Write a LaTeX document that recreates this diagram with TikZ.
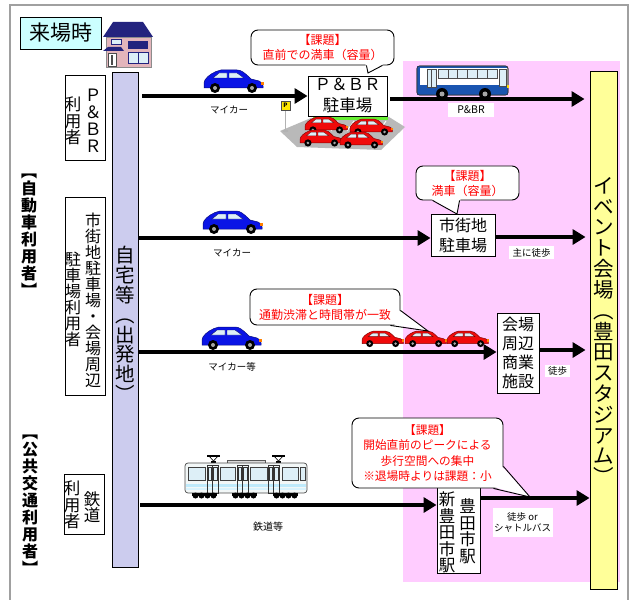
\documentclass[tikz,border=0pt]{standalone}
\usepackage{fontspec}
\setmainfont{Noto Sans CJK JP}
\usetikzlibrary{arrows.meta,calc}

\definecolor{framegray}{HTML}{A0A0A0}
\definecolor{titlecyan}{HTML}{CCFFFF}
\definecolor{homebar}{HTML}{CCCCEE}
\definecolor{zonepink}{HTML}{FFCCFF}
\definecolor{venueyellow}{HTML}{FFFF99}
\definecolor{issuered}{HTML}{FF0000}
\definecolor{carblue}{HTML}{0A14E6}
\definecolor{carred}{HTML}{F00A0A}
\definecolor{glass}{HTML}{DDEFF7}
\definecolor{busblue}{HTML}{1A55B0}
\definecolor{roofnavy}{HTML}{23237E}
\definecolor{wallpink}{HTML}{E3B5BB}
\definecolor{trainbody}{HTML}{F2F7F7}
\definecolor{lotgreen}{HTML}{66EE33}

% vertical (tate-gaki) stack of characters: \tate[pitch in em]{chars}
\makeatletter
\def\tate@end{\tate@end}
\def\tate@loop#1{\ifx\tate@end#1\else\hbox to 1em{\hss#1\hss}\expandafter\tate@loop\fi}
\newcommand\tate[2][1]{\vbox{\baselineskip=#1em\lineskiplimit=-\maxdimen\lineskip=0pt\tate@loop#2\tate@end}}
\makeatother

% side view of a small car, origin at its top-left corner (y grows downwards)
\tikzset{
  pics/car/.style={code={
    \filldraw[fill=#1, draw=#1!55!black, line width=0.5pt]
      (0,18) -- (0,13) .. controls (0,9) and (6,4) .. (12,1.5)
      .. controls (14,0.5) and (15,0) .. (17,0) -- (33,0)
      .. controls (37,0) and (40,2) .. (47,9) -- (55,11)
      .. controls (58,12) and (59,14) .. (59,16) -- (59,18) -- cycle;
    \filldraw[fill=glass, draw=#1!50!black, line width=0.4pt]
      (9,8) -- (15,3) -- (23,3) -- (23,8) -- cycle
      (25,3) -- (33,3) -- (40,8) -- (25,8) -- cycle;
    \fill[orange] (57,12) rectangle (59.5,15);
    \fill[black] (11,18) circle[radius=5] (48,18) circle[radius=5];
    \fill[gray!70] (11,18) circle[radius=2] (48,18) circle[radius=2];
  }}
}

\begin{document}
\begin{tikzpicture}[x=1pt,y=-1pt,
  box/.style={draw=black, line width=0.9pt, fill=white, inner sep=0pt, align=center},
  bar/.style={draw=black, line width=0.9pt, inner sep=0pt},
  arr/.style={line width=4.5pt, -{Triangle[length=13pt,width=15pt]}},
  lbl/.style={font=\fontsize{9.5}{11.5}\selectfont, inner sep=1.5pt, align=center},
  wlbl/.style={lbl, fill=white},
  note/.style={draw=black, line width=0.9pt, rounded corners=7pt, fill=white,
    text=issuered, font=\fontsize{12}{15}\selectfont, align=center, inner sep=0pt},
  tail/.style={line width=0.9pt},
  col/.style={inner sep=0pt}
]
\useasboundingbox (0,0) rectangle (631,599);

% outer frame
\draw[framegray, line width=1.5pt] (10,602) -- (10,5) -- (628,5) -- (628,602);

% venue-side zone
\fill[zonepink] (403,61) rectangle (620,582);

% title
\node[draw=black, line width=0.9pt, fill=titlecyan, minimum width=81, minimum height=32,
  inner sep=0pt, font=\fontsize{21}{21}\selectfont] (title) at (60.5,33) {来場時};

% house icon
\begin{scope}[shift={(103,22)}]
  \filldraw[fill=wallpink, draw=black!45, line width=0.4pt] (3,15) rectangle (48,45);
  \fill[roofnavy] (0,29) -- (5,25) -- (18,25) -- (21,29) -- cycle;
  \filldraw[fill=white, draw=black!70, line width=0.4pt] (5,31) rectangle (13,44);
  \fill[black!70] (8,33) rectangle (10,43);
  \filldraw[fill=glass, draw=roofnavy, line width=0.5pt] (8,17) rectangle (18,22);
  \fill[roofnavy] (25,19) rectangle (45,27);
  \filldraw[fill=glass, draw=roofnavy, line width=0.8pt] (25,30) rectangle (45,41);
  \draw[roofnavy, line width=0.5pt] (35,30) -- (35,41);
  \fill[roofnavy] (0,15) -- (10,0) -- (40,0) -- (50,15) -- cycle;
\end{scope}

% departure bar and venue bar
\node[bar, fill=homebar, minimum width=26, minimum height=495] (home) at (125,319.5) {};
\node[col, font=\fontsize{19.5}{19.5}\selectfont] (hometext) at (125.5,324) {\tate[1.015]{自宅等︵出発地︶}};
\node[bar, fill=venueyellow, minimum width=27, minimum height=518] (venue) at (603.5,330) {};
\node[col, font=\fontsize{20.5}{20.5}\selectfont] (venuetext) at (603.5,331) {\tate[1.015]{イベント会場︵豊田スタジアム︶}};

% user groups
\node[col, font=\fontsize{16}{16}\selectfont\bfseries] (catcar) at (29,235.5) {\tate[1.0625]{︻自動車利用者︼}};
\node[col, font=\fontsize{16}{16}\selectfont\bfseries] (catpublic) at (30,505) {\tate[1.0625]{︻公共交通利用者︼}};

\node[box, minimum width=40, minimum height=85] (pbruser) at (85,117.5) {};
\node[col, font=\fontsize{17}{17}\selectfont] (pbruserA) at (93,121) {\tate{Ｐ＆ＢＲ}};
\node[col, font=\fontsize{16.5}{16.5}\selectfont] (pbruserB) at (73,121) {\tate{利用者}};

\node[box, minimum width=40, minimum height=198] (caruser) at (85,296) {};
\node[col, font=\fontsize{16}{16}\selectfont] (caruserA) at (93,300) {\tate{市街地駐車場・会場周辺}};
\node[col, font=\fontsize{16}{16}\selectfont] (caruserB) at (73,299.5) {\tate{駐車場利用者}};

\node[box, minimum width=40, minimum height=60] (railuser) at (84,504) {};
\node[col, font=\fontsize{16.5}{16.5}\selectfont] (railuserA) at (92,507) {\tate{鉄道}};
\node[col, font=\fontsize{16.5}{16.5}\selectfont] (railuserB) at (72,505) {\tate{利用者}};

% ---------- route 1 : park & bus ride ----------
% parking lot
\fill[gray!55] (280,131) -- (311,118) -- (389,117) -- (405,127) -- (381,150) -- (297,147) -- cycle;
\draw[lotgreen, line width=2.5pt] (313,118.5) -- (388,118.5);
\foreach \lx in {322,338,354,370,386}
  \draw[white, line width=0.9pt] (\lx,121) -- (\lx-7,131);
\draw[gray!60, line width=1.2pt] (285.5,109) -- (285.5,131);
\fill[gray!60] (285.5,131) ellipse[x radius=3, y radius=1.2];
\filldraw[fill=yellow!90!orange, draw=black!70, line width=0.5pt] (281,101) rectangle (290,110);
\node[inner sep=0pt, font=\fontsize{6}{6}\selectfont\bfseries] (psign) at (285.5,105.5) {P};
\pic[scale=0.72] at (305,117) {car=carred};
\pic[scale=0.72] at (350,119) {car=carred};
\pic[scale=0.72] at (300,130) {car=carred};
\pic[scale=0.72] at (340,132) {car=carred};

\node[box, minimum width=79, minimum height=40, font=\fontsize{16.5}{21}\selectfont] (pbr) at (347.5,96) {Ｐ＆ＢＲ\\駐車場};
\pic at (204,70) {car=carblue};
\draw[arr, shorten <=4pt] (home.east |- pbr.west) -- (pbr.west);
\node[lbl] (mycar1) at (229,110) {マイカー};

% bus
\begin{scope}[shift={(417,66)}]
  \filldraw[fill=white, draw=black!80, line width=0.6pt, rounded corners=2.5pt] (0,0) rectangle (91,29);
  \fill[busblue] (1,0.5) rectangle (90,2.5);
  \fill[busblue] (0.4,19) rectangle (90.6,28.6);
  \fill[busblue] (0.4,0.5) rectangle (3,28.6);
  \foreach \i in {0,...,5}
    \filldraw[fill=glass, draw=black!70, line width=0.4pt] ({21+\i*9.8},3.5) rectangle ({30.8+\i*9.8},12);
  \filldraw[fill=glass, draw=black!70, line width=0.5pt] (10,3.5) rectangle (19,21);
  \draw[black!70, line width=0.4pt] (14.5,3.5) -- (14.5,21);
  \filldraw[fill=glass, draw=black!70, line width=0.5pt] (82,3.5) rectangle (89,20);
  \draw[black!80, line width=0.6pt, rounded corners=2.5pt] (0,0) rectangle (91,29);
  \fill[yellow!80!orange] (89.5,19) rectangle (92,22);
  \fill[black] (25,28) circle[radius=6] (68,28) circle[radius=6];
  \fill[gray!70] (25,28) circle[radius=2.5] (68,28) circle[radius=2.5];
\end{scope}
\draw[arr, shorten >=5pt] ($(pbr.east)+(3,3)$) -- ($(pbr.east -| venue.west)+(0,3)$);
\node[wlbl, minimum width=46, minimum height=14, font=\fontsize{10.5}{12}\selectfont] (pbrlabel) at (471,110) {P\&BR};

% ---------- route 2 : town-centre car parks ----------
\node[box, minimum width=64, minimum height=42, font=\fontsize{16}{20}\selectfont] (lot) at (463,235) {市街地\\駐車場};
\pic at (203,211) {car=carblue};
\draw[arr] ($(home.east |- lot.west)+(0,3)$) -- ($(lot.west)+(0,3)$);
\draw[arr, shorten >=4pt] ($(lot.east)+(0,2)$) -- ($(lot.east -| venue.west)+(0,2)$);
\node[lbl] (mycar2) at (232,253) {マイカー};
\node[wlbl, minimum width=45, minimum height=13] (walk1) at (531.5,252.5) {主に徒歩};

% ---------- route 3 : shops around the venue ----------
\node[box, minimum width=42, minimum height=80, font=\fontsize{16}{19}\selectfont] (shop) at (518,353) {会場\\周辺\\商業\\施設};
\pic at (202,327) {car=carblue};
\draw[arr] ($(home.east |- shop.west)+(0,-1)$) -- ($(shop.west)+(0,-1)$);
\draw[arr, shorten >=4pt] ($(shop.east)+(0,-3)$) -- ($(shop.east -| venue.west)+(0,-3)$);
\pic[scale=0.7] at (362,331) {car=carred};
\pic[scale=0.7] at (405,331) {car=carred};
\pic[scale=0.7] at (447,331) {car=carred};
\node[lbl] (mycar3) at (232,366.5) {マイカー等};
\node[wlbl, minimum width=25, minimum height=12] (walk2) at (557.5,371) {徒歩};

% ---------- route 4 : railway ----------
\node[box, minimum width=43, minimum height=89] (station) at (458.5,528.5) {};
\node[col, font=\fontsize{16.5}{16.5}\selectfont] (stationA) at (467.5,531) {\tate{豊田市駅}};
\node[col, font=\fontsize{16.5}{16.5}\selectfont] (stationB) at (447,532.5) {\tate{新豊田市駅}};

% train
\begin{scope}[shift={(185,455)}]
  \foreach \px in {22,87} {
    \draw[black, line width=1.2pt] (\px,1) -- (\px+13,1);
    \draw[black, line width=0.6pt] (\px+2,1) -- (\px+6.5,6) -- (\px+11,1);
    \fill[black] (\px+4,6) rectangle (\px+9,8);
  }
  \filldraw[fill=gray!30, draw=gray!70!black, line width=0.4pt] (42,5) rectangle (80,8);
  \filldraw[fill=trainbody, draw=black!70, line width=0.7pt, rounded corners=3pt] (0,8) rectangle (122,38);
  \fill[cyan!25] (1,29) rectangle (121,31.5);
  \fill[cyan!15] (1,33) rectangle (121,34.5);
  \foreach \a/\b in {3/20,35/50,65/82,97/113}
    \filldraw[fill=glass, draw=black!75, line width=0.6pt] (\a,12) rectangle (\b,25);
  \filldraw[fill=glass, draw=black!75, line width=0.5pt] (115.5,12) rectangle (120,25);
  \foreach \a in {22,52,83} {
    \draw[black!80, line width=0.6pt] (\a,10) rectangle (\a+11,38);
    \draw[black!80, line width=0.6pt] (\a+5.5,10) -- (\a+5.5,38);
    \filldraw[fill=glass, draw=black!80, line width=0.5pt] (\a+1,12) rectangle (\a+4.5,25) (\a+6.5,12) rectangle (\a+10,25);
  }
  \foreach \a in {7,47,88} {
    \fill[black] (\a,38) rectangle (\a+25,40.5);
    \foreach \k in {0,1,2,3} \fill[black] (\a+3.5+\k*6,40.5) circle[radius=3];
  }
\end{scope}
\draw[arr, shorten <=2pt] ($(home.east |- station.west)+(0,-23.5)$) -- ($(station.west)+(0,-23.5)$);
\draw[arr] ($(station.east)+(0,-30.5)$) -- ($(station.east -| venue.west)+(0,-30.5)$);
\node[lbl, font=\fontsize{10}{12}\selectfont] (raillabel) at (268,527) {鉄道等};
\node[wlbl, minimum width=55, minimum height=29] (walk3) at (522.5,522.5) {徒歩 or\\シャトルバス};

% ---------- issue callouts ----------
\node[note, minimum width=143, minimum height=35] (issue1) at (322.5,47.5) {【課題】\\直前での満車（容量）};
\coordinate (issue1tip) at (368,73);
\fill[white] ($(issue1.south east)+(-29,-1.5)$) -- (issue1tip) -- ($(issue1.south east)+(-11,-1.5)$) -- cycle;
\draw[tail] ($(issue1.south east)+(-28,0)$) -- (issue1tip) -- ($(issue1.south east)+(-12,0)$);

\node[note, minimum width=103, minimum height=34] (issue2) at (467.5,183) {【課題】\\満車（容量）};
\coordinate (issue2tip) at (457,214);
\fill[white] ($(issue2.south west)+(16,-1.5)$) -- (issue2tip) -- ($(issue2.south west)+(45,-1.5)$) -- cycle;
\draw[tail] ($(issue2.south west)+(17,0)$) -- (issue2tip) -- ($(issue2.south west)+(44,0)$);

\node[note, minimum width=150, minimum height=36] (issue3) at (325,307) {【課題】\\通勤渋滞と時間帯が一致};
\coordinate (issue3tip) at (428,331);
\fill[white] ($(issue3.south east)+(-1.5,-15)$) -- (issue3tip) -- ($(issue3.south east)+(-10,-1.5)$) -- ($(issue3.south east)+(-10,-15)$) -- cycle;
\draw[tail] ($(issue3.south east)+(0,-15)$) -- (issue3tip) -- ($(issue3.south east)+(-10,0)$);

\node[note, minimum width=151, minimum height=70, font=\fontsize{11.7}{15.3}\selectfont] (issue4) at (427.5,453) {【課題】\\開始直前のピークによる\\歩行空間への集中\\※退場時よりは課題：小};
\coordinate (issue4tip) at (530,497);
\fill[white] ($(issue4.south east)+(-1.5,-22)$) -- (issue4tip) -- ($(issue4.south east)+(-10,-1.5)$) -- ($(issue4.south east)+(-10,-22)$) -- cycle;
\draw[tail] ($(issue4.south east)+(0,-22)$) -- (issue4tip) -- ($(issue4.south east)+(-10,0)$);

\end{tikzpicture}
\end{document}
